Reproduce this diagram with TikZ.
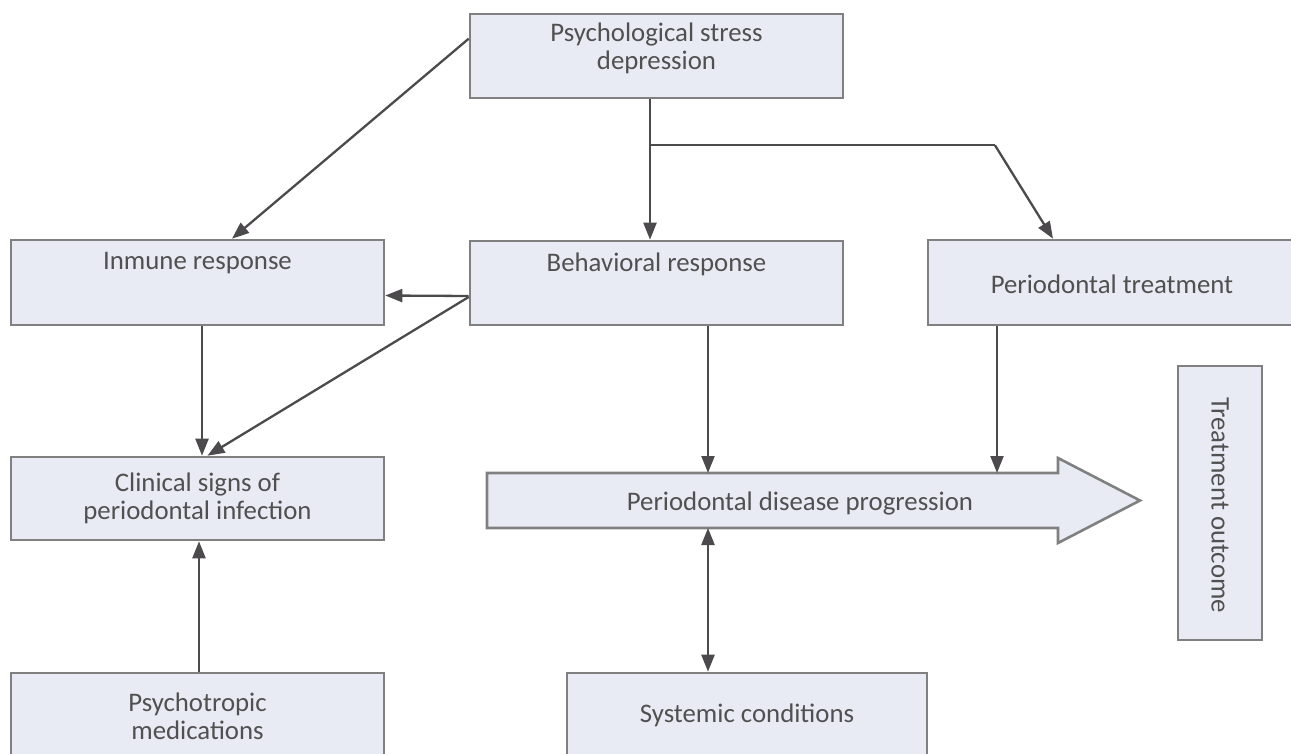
\documentclass[tikz,border=0pt]{standalone}
\usepackage{fontspec}
\setmainfont{Carlito}
\usetikzlibrary{arrows.meta,calc}
\definecolor{boxfill}{HTML}{E8EBF4}
\definecolor{boxline}{HTML}{808080}
\definecolor{arrowcol}{HTML}{4D4A4D}
\definecolor{txtcol}{HTML}{505050}
\begin{document}
\begin{tikzpicture}[x=1pt,y=-1pt,
  box/.style={draw=boxline,fill=boxfill,line width=2.6pt,inner sep=0pt},
  txt/.style={text=txtcol,font=\fontsize{26.8}{28}\selectfont,align=center,inner sep=0pt},
  conn/.style={draw=arrowcol,line width=2.3pt,-{Triangle[length=17pt,width=13pt]}},
  biconn/.style={draw=arrowcol,line width=2.3pt,{Triangle[length=17pt,width=13pt]}-{Triangle[length=17pt,width=13pt]}},
  plain/.style={draw=arrowcol,line width=2.3pt}]
\useasboundingbox (0,0) rectangle (1291,754);
% boxes
\node[box,minimum width=373pt,minimum height=84pt] (ps) at (656.5,56) {};
\node[box,minimum width=373pt,minimum height=85pt] (im) at (197.5,282.5) {};
\node[box,minimum width=373pt,minimum height=84pt] (bh) at (656.5,283) {};
\node[box,minimum width=368pt,minimum height=85pt] (tr) at (1112,282.5) {};
\node[box,minimum width=373pt,minimum height=83pt] (cl) at (197.5,498.5) {};
\node[box,minimum width=84pt,minimum height=274pt] (to) at (1220,503) {};
\node[box,minimum width=373pt,minimum height=100pt] (pm) at (197.5,723) {};
\node[box,minimum width=360pt,minimum height=100pt] (sy) at (747,723) {};
% progression arrow
\draw[draw=boxline,fill=boxfill,line width=2.6pt,line join=miter]
  (487,473) -- (1058,473) -- (1058,458) -- (1140,500.5) -- (1058,543) -- (1058,528) -- (487,528) -- cycle;
\coordinate (pgt1) at (708,473);
\coordinate (pgt2) at (997,473);
\coordinate (pgb) at (708,528);
% texts
\node[txt] (tps) at (656.5,48) {Psychological stress\\depression};
\node[txt] (tim) at (197.5,263) {Inmune response};
\node[txt] (tbh) at (656.5,264) {Behavioral response};
\node[txt] (ttr) at (1112,284) {Periodontal treatment};
\node[txt] (tcl) at (197.5,498) {Clinical signs of\\periodontal infection};
\node[txt,rotate=-90] (tto) at (1220,505) {Treatment outcome};
\node[txt] (tpm) at (197.5,716) {Psychotropic\\medications};
\node[txt] (tsy) at (747,715) {Systemic conditions};
\node[txt] (tpg) at (800,503) {Periodontal disease progression};
% connectors
\draw[conn] ([yshift=-26pt]ps.north west) -- ([xshift=34.5pt]im.north);
\draw[conn] ([xshift=-6.5pt]ps.south) -- ([xshift=-6.5pt]bh.north);
\coordinate (br1) at ([xshift=-6.5pt,yshift=-46pt]ps.south);
\coordinate (br2) at ([xshift=338.5pt,yshift=-46pt]ps.south);
\draw[plain] (br1) -- (br2);
\draw[conn] (br2) -- ([xshift=-59pt]tr.north);
\draw[conn] ([yshift=-13pt]bh.west) -- ([yshift=-13pt]im.east);
\draw[conn] ([yshift=-14pt]bh.west) -- ([xshift=10pt]cl.north);
\draw[conn] ([xshift=4.5pt]im.south) -- ([xshift=4.5pt]cl.north);
\draw[conn] ([xshift=51.5pt]bh.south) -- (pgt1);
\draw[conn] ([xshift=-115pt]tr.south) -- (pgt2);
\draw[biconn] (pgb) -- ([xshift=-39pt]sy.north);
\draw[conn] ([xshift=1.5pt]pm.north) -- ([xshift=1.5pt]cl.south);
\end{tikzpicture}
\end{document}
